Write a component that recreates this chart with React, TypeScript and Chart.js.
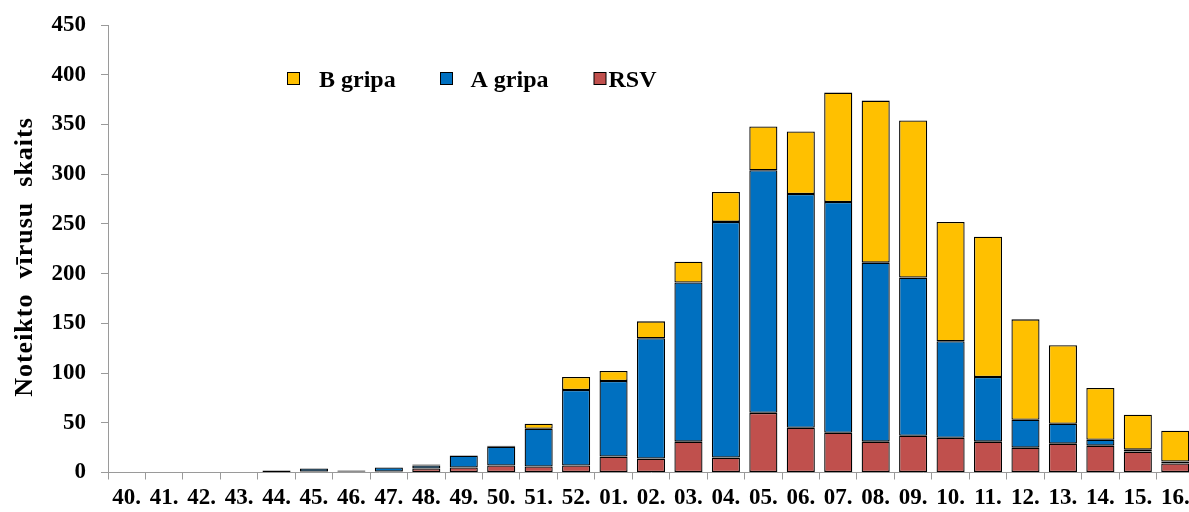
import React, { useEffect, useRef } from "react";
import { Chart, registerables } from "chart.js";

Chart.register(...registerables);

const weeks = [
  "40.", "41.", "42.", "43.", "44.", "45.", "46.", "47.", "48.", "49.", "50.", "51.", "52.",
  "01.", "02.", "03.", "04.", "05.", "06.", "07.", "08.", "09.", "10.", "11.", "12.", "13.", "14.", "15.", "16.",
];
const rsv = [0, 0, 0, 0, 2, 1, 1, 1, 4, 5, 7, 6, 7, 16, 14, 31, 15, 60, 45, 40, 31, 37, 35, 31, 25, 29, 27, 21, 9];
const aGripa = [0, 0, 0, 0, 0, 3, 1, 4, 3, 12, 19, 38, 76, 76, 121, 160, 237, 244, 235, 232, 180, 159, 97, 65, 28, 20, 6, 2, 2];
const bGripa = [0, 0, 0, 0, 0, 0, 0, 0, 1, 0, 1, 5, 13, 10, 17, 21, 30, 44, 63, 110, 163, 158, 120, 141, 101, 79, 52, 35, 31];
const seriesNames = ["RSV", "A gripa", "B gripa"];
const yTitle = "Noteikto  vīrusu  skaits";

const FONT = "'Liberation Serif', 'Times New Roman', serif";
const COLORS = ["#C0504D", "#0070C0", "#FFC000"];

// legend layout (order shown: B, A, RSV)
const legendItems = [
  { ds: 2, boxX: 287.5, textX: 319 },
  { ds: 1, boxX: 440.5, textX: 470.5 },
  { ds: 0, boxX: 594, textX: 608.5 },
];

const legendPlugin = {
  id: "customLegend",
  afterDraw(chart: any) {
    const ctx = chart.ctx;
    ctx.save();
    ctx.font = `bold 24px ${FONT}`;
    ctx.textBaseline = "alphabetic";
    ctx.textAlign = "left";
    legendItems.forEach((it) => {
      const ds = chart.data.datasets[it.ds];
      ctx.fillStyle = ds.backgroundColor;
      ctx.fillRect(it.boxX, 72.5, 12, 12);
      ctx.strokeStyle = "#000";
      ctx.lineWidth = 1;
      ctx.strokeRect(it.boxX, 72.5, 12, 12);
      ctx.fillStyle = "#000";
      ctx.fillText(ds.label, it.textX, 86.5);
    });
    // y axis title
    ctx.save();
    ctx.translate(25, 257);
    ctx.rotate(-Math.PI / 2);
    ctx.font = `bold 26px ${FONT}`;
    (ctx as any).letterSpacing = "1px";
    ctx.textAlign = "center";
    ctx.textBaseline = "middle";
    ctx.fillStyle = "#000";
    ctx.fillText(yTitle, 0, 0);
    ctx.restore();
    ctx.restore();
  },
};

export default function App() {
  const ref = useRef<HTMLCanvasElement | null>(null);
  useEffect(() => {
    if (!ref.current) return;
    const values = [rsv, aGripa, bGripa];
    const chart = new Chart(ref.current, {
      type: "bar",
      data: {
        labels: weeks,
        datasets: values.map((v, i) => ({
          label: seriesNames[i],
          data: v,
          backgroundColor: COLORS[i],
          borderColor: "#000",
          borderWidth: (c: any) => (c.raw ? 1.3 : 0),
          borderSkipped: false,
          categoryPercentage: 1,
          barPercentage: 0.75,
        })),
      },
      options: {
        responsive: false,
        animation: false,
        layout: { padding: { top: 25, left: 0, right: 0, bottom: 0 } },
        plugins: { legend: { display: false }, tooltip: { enabled: false } },
        scales: {
          x: {
            stacked: true,
            grid: { drawOnChartArea: false, drawTicks: true, tickLength: 7, color: "#9a9a9a" },
            border: { color: "#9a9a9a", width: 1 },
            ticks: {
              color: "#000",
              font: { family: FONT, size: 23, weight: "bold" },
              padding: 5,
              maxRotation: 0,
              autoSkip: false,
            },
            afterFit: (s: any) => {
              s.height = 39.5;
              s.paddingLeft = 0;
              s.paddingRight = 0;
            },
          },
          y: {
            stacked: true,
            min: 0,
            max: 450,
            grid: { drawOnChartArea: false, drawTicks: true, tickLength: 7, color: "#9a9a9a" },
            border: { color: "#9a9a9a", width: 1 },
            ticks: {
              stepSize: 50,
              color: "#000",
              font: { family: FONT, size: 23, weight: "bold" },
              padding: 15,
            },
            title: { display: false },
            afterFit: (s: any) => {
              s.width = 108;
              s.paddingTop = 0;
              s.paddingBottom = 0;
            },
          },
        },
      },
      plugins: [legendPlugin],
    } as any);
    return () => chart.destroy();
  }, []);
  return (
    <div style={{ position: "fixed", left: 0, top: 0, width: 1194, height: 512, background: "#fff" }}>
      <canvas ref={ref} width={1194} height={512} style={{ display: "block" }} />
    </div>
  );
}
